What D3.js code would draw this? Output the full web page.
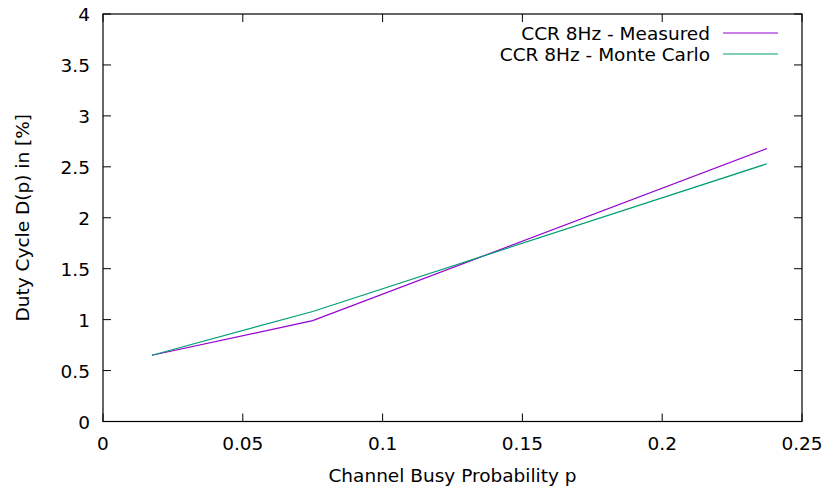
<!DOCTYPE html>
<html>
<head>
<meta charset="utf-8">
<script src="https://cdn.jsdelivr.net/npm/d3@7"></script>
<style>
  body { margin: 0; background: #fff; }
  text { font-family: "DejaVu Sans", sans-serif; font-size: 18.5px; fill: #000; }
</style>
</head>
<body>
<div id="chart"></div>
<script>
// data
var busyProb = [0.0175, 0.075, 0.2375];
var measured = [0.65, 0.99, 2.68];
var monteCarlo = [0.65, 1.08, 2.53];
var seriesNames = ["CCR 8Hz - Measured", "CCR 8Hz - Monte Carlo"];
var seriesColors = ["#9400d3", "#009e73"];
var xTicks = [0, 0.05, 0.1, 0.15, 0.2, 0.25];
var yTicks = [0, 0.5, 1, 1.5, 2, 2.5, 3, 3.5, 4];

var svgWidth = 827, svgHeight = 490;
var margin = {top: 14, right: 25, bottom: 68.5, left: 103};
var width = svgWidth - margin.left - margin.right;
var height = svgHeight - margin.top - margin.bottom;

var svg = d3.select("#chart").append("svg")
    .attr("width", svgWidth)
    .attr("height", svgHeight);
var g = svg.append("g")
    .attr("transform", `translate(${margin.left}, ${margin.top})`);

var x = d3.scaleLinear().domain([0, 0.25]).range([0, width]);
var y = d3.scaleLinear().domain([0, 4]).range([height, 0]);

// ticks (gnuplot style: inward, mirrored)
var tick = 8;
xTicks.forEach(function(t) {
    g.append("line").attr("x1", x(t)).attr("x2", x(t)).attr("y1", height).attr("y2", height - tick)
        .attr("stroke", "#000").attr("stroke-width", 1);
    g.append("line").attr("x1", x(t)).attr("x2", x(t)).attr("y1", 0).attr("y2", tick)
        .attr("stroke", "#000").attr("stroke-width", 1);
    g.append("text").attr("x", x(t)).attr("y", height + 28.5)
        .attr("text-anchor", "middle").text(d3.format("~g")(t));
});
yTicks.forEach(function(t) {
    g.append("line").attr("x1", 0).attr("x2", tick).attr("y1", y(t)).attr("y2", y(t))
        .attr("stroke", "#000").attr("stroke-width", 1);
    g.append("line").attr("x1", width).attr("x2", width - tick).attr("y1", y(t)).attr("y2", y(t))
        .attr("stroke", "#000").attr("stroke-width", 1);
    g.append("text").attr("x", -13).attr("y", y(t) + 7)
        .attr("text-anchor", "end").text(d3.format("~g")(t));
});

// lines
var line = d3.line()
    .x(function(d) { return x(d[0]); })
    .y(function(d) { return y(d[1]); });
[measured, monteCarlo].forEach(function(vals, i) {
    g.append("path")
        .datum(busyProb.map(function(p, j) { return [p, vals[j]]; }))
        .attr("fill", "none")
        .attr("stroke", seriesColors[i])
        .attr("stroke-width", 1.2)
        .attr("d", line);
});

// border
g.append("rect").attr("x", 0).attr("y", 0).attr("width", width).attr("height", height)
    .attr("fill", "none").attr("stroke", "#000").attr("stroke-width", 1.2);

// legend
seriesNames.forEach(function(name, i) {
    var ly = 19 + i * 21;
    g.append("text").attr("x", 607).attr("y", ly + 7)
        .attr("text-anchor", "end").text(name);
    g.append("line").attr("x1", 620).attr("x2", 675).attr("y1", ly).attr("y2", ly)
        .attr("stroke", seriesColors[i]).attr("stroke-width", 1.2);
});

// axis titles
svg.append("text")
    .attr("x", margin.left + width / 2).attr("y", 482)
    .attr("text-anchor", "middle")
    .text("Channel Busy Probability p");
svg.append("text")
    .attr("transform", `translate(29, ${margin.top + height / 2}) rotate(-90)`)
    .attr("text-anchor", "middle")
    .text("Duty Cycle D(p) in [%]");
</script>
</body>
</html>
